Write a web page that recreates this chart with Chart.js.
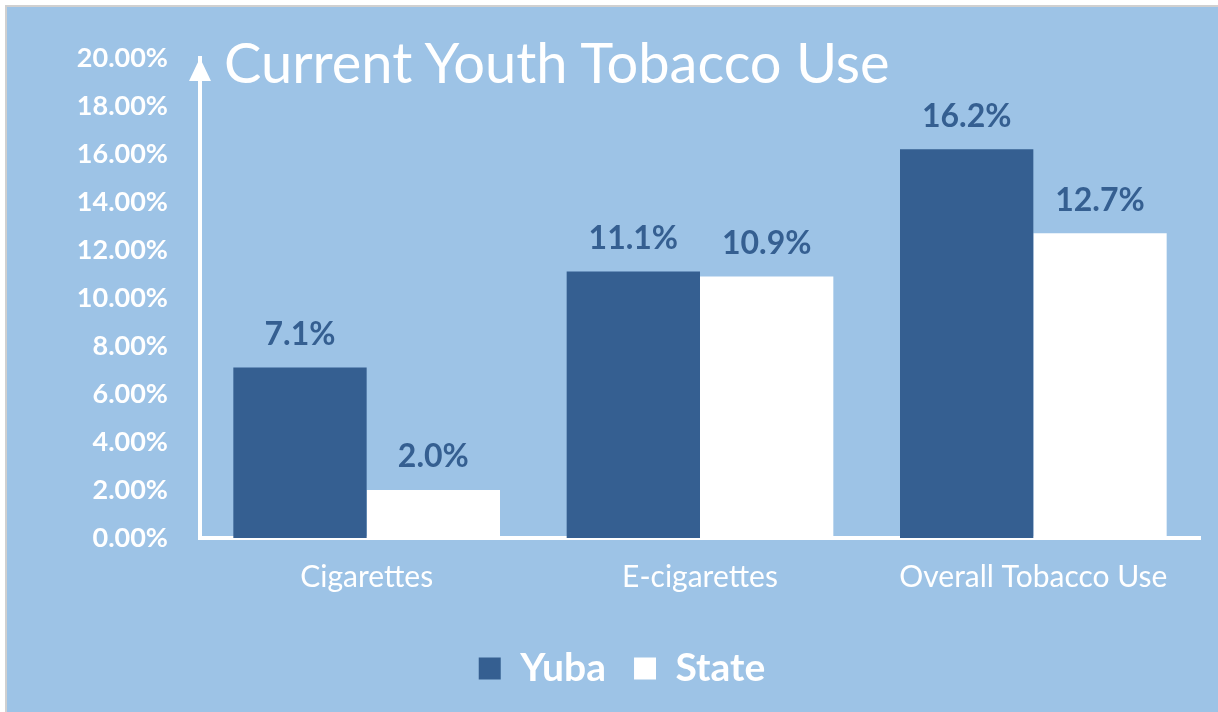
<!DOCTYPE html>
<html>
<head>
  <title>Current Youth Tobacco Use</title>
  <script src="https://cdn.jsdelivr.net/npm/chart.js"></script>
  <style>
    body { margin: 0; background: #fff; }
    #panel {
      position: absolute; left: 5px; top: 5px; width: 1213px; height: 707px;
      background: #9DC3E6; border-left: 2px solid #d0d0d0; border-top: 2px solid #d0d0d0;
    }
    #title {
      position: absolute; left: 224px; top: 28px; color: #fff;
      font-family: Lato, sans-serif; font-size: 56px; white-space: nowrap;
    }
    canvas { position: absolute; left: 0; top: 0; }
  </style>
</head>
<body>
  <div id="panel">
    <canvas id="tobaccoChart" width="1211" height="705"></canvas>
  </div>
  <div id="title">Current Youth Tobacco Use</div>

  <script>
    // values
    const categories = ['Cigarettes', 'E-cigarettes', 'Overall Tobacco Use'];
    const yubaValues = [7.1, 11.1, 16.2];
    const stateValues = [2.0, 10.9, 12.7];
    const seriesNames = ['Yuba', 'State'];

    const darkBlue = '#355F91';

    // value labels above each bar
    const barLabels = {
      id: 'barLabels',
      afterDatasetsDraw(chart) {
        const ctx = chart.ctx;
        ctx.save();
        ctx.font = 'bold 32px Lato, sans-serif';
        ctx.fillStyle = darkBlue;
        ctx.textAlign = 'center';
        ctx.textBaseline = 'middle';
        chart.data.datasets.forEach((ds, i) => {
          chart.getDatasetMeta(i).data.forEach((bar, j) => {
            ctx.fillText(ds.data[j].toFixed(1) + '%', bar.x, bar.y - 33);
          });
        });
        ctx.restore();
      }
    };

    // arrow head on top of the value axis
    const axisArrow = {
      id: 'axisArrow',
      afterDraw(chart) {
        const ctx = chart.ctx;
        const a = chart.chartArea;
        ctx.save();
        ctx.fillStyle = '#fff';
        ctx.beginPath();
        ctx.moveTo(a.left, a.top);
        ctx.lineTo(a.left - 11, a.top + 23);
        ctx.lineTo(a.left + 11, a.top + 23);
        ctx.closePath();
        ctx.fill();
        ctx.restore();
      }
    };

    new Chart(document.getElementById('tobaccoChart').getContext('2d'), {
      type: 'bar',
      data: {
        labels: categories,
        datasets: [
          { label: seriesNames[0], data: yubaValues, backgroundColor: darkBlue },
          { label: seriesNames[1], data: stateValues, backgroundColor: '#ffffff' }
        ]
      },
      options: {
        responsive: false,
        animation: false,
        layout: { padding: { top: 51, left: 37, right: 18, bottom: 14 } },
        datasets: { bar: { categoryPercentage: 0.8, barPercentage: 1.0 } },
        plugins: {
          legend: {
            position: 'bottom',
            labels: {
              color: '#fff',
              font: { family: 'Lato, sans-serif', size: 39, weight: 'bold' },
              boxWidth: 22, boxHeight: 22, padding: 28
            }
          },
          tooltip: { enabled: false }
        },
        scales: {
          x: {
            grid: { display: false },
            border: { display: true, color: '#fff', width: 4 },
            ticks: { color: '#fff', font: { family: 'Lato, sans-serif', size: 30 }, padding: 13 },
            afterFit(scale) { scale.height = 83; }
          },
          y: {
            min: 0, max: 20,
            grid: { display: false },
            border: { display: true, color: '#fff', width: 4 },
            ticks: {
              stepSize: 2, color: '#fff', padding: 24,
              font: { family: 'Lato, sans-serif', size: 27, weight: 'bold' },
              callback: v => v.toFixed(2) + '%'
            },
            afterFit(scale) { scale.width = 156; }
          }
        }
      },
      plugins: [barLabels, axisArrow]
    });
  </script>
</body>
</html>
